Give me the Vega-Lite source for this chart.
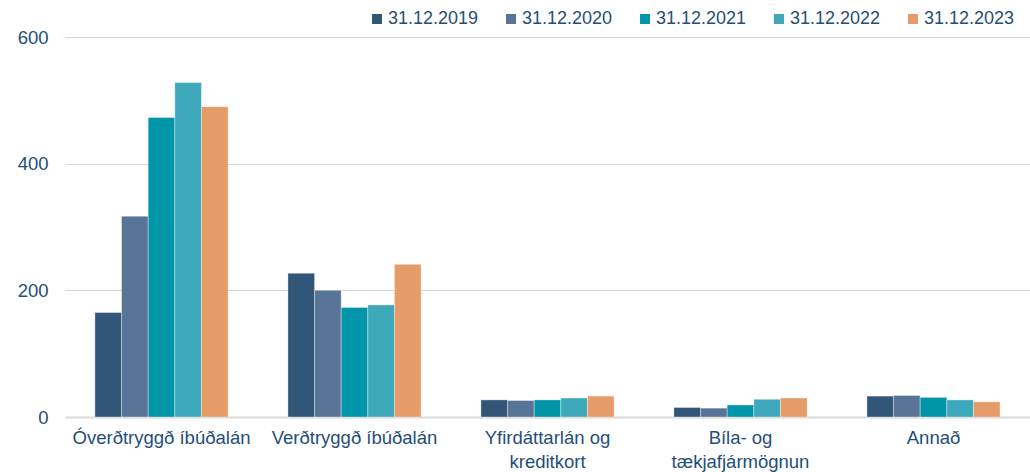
{
  "$schema": "https://vega.github.io/schema/vega-lite/v6.json",
  "width": 1030,
  "height": 472,
  "autosize": {"type": "fit", "contains": "padding"},
  "padding": {"top": 28, "left": 17, "right": 0, "bottom": 1},
  "background": "white",
  "data": {
    "values": [
      {"flokkur": "Óverðtryggð íbúðalán", "dags": "31.12.2019", "v": 165},
      {"flokkur": "Óverðtryggð íbúðalán", "dags": "31.12.2020", "v": 317},
      {"flokkur": "Óverðtryggð íbúðalán", "dags": "31.12.2021", "v": 473},
      {"flokkur": "Óverðtryggð íbúðalán", "dags": "31.12.2022", "v": 528},
      {"flokkur": "Óverðtryggð íbúðalán", "dags": "31.12.2023", "v": 490},
      {"flokkur": "Verðtryggð íbúðalán", "dags": "31.12.2019", "v": 227},
      {"flokkur": "Verðtryggð íbúðalán", "dags": "31.12.2020", "v": 200},
      {"flokkur": "Verðtryggð íbúðalán", "dags": "31.12.2021", "v": 173},
      {"flokkur": "Verðtryggð íbúðalán", "dags": "31.12.2022", "v": 177},
      {"flokkur": "Verðtryggð íbúðalán", "dags": "31.12.2023", "v": 241},
      {"flokkur": "Yfirdáttarlán og kreditkort", "dags": "31.12.2019", "v": 27},
      {"flokkur": "Yfirdáttarlán og kreditkort", "dags": "31.12.2020", "v": 26},
      {"flokkur": "Yfirdáttarlán og kreditkort", "dags": "31.12.2021", "v": 27},
      {"flokkur": "Yfirdáttarlán og kreditkort", "dags": "31.12.2022", "v": 30},
      {"flokkur": "Yfirdáttarlán og kreditkort", "dags": "31.12.2023", "v": 33},
      {"flokkur": "Bíla- og tækjafjármögnun", "dags": "31.12.2019", "v": 15},
      {"flokkur": "Bíla- og tækjafjármögnun", "dags": "31.12.2020", "v": 14},
      {"flokkur": "Bíla- og tækjafjármögnun", "dags": "31.12.2021", "v": 19},
      {"flokkur": "Bíla- og tækjafjármögnun", "dags": "31.12.2022", "v": 28},
      {"flokkur": "Bíla- og tækjafjármögnun", "dags": "31.12.2023", "v": 30},
      {"flokkur": "Annað", "dags": "31.12.2019", "v": 33},
      {"flokkur": "Annað", "dags": "31.12.2020", "v": 34},
      {"flokkur": "Annað", "dags": "31.12.2021", "v": 31},
      {"flokkur": "Annað", "dags": "31.12.2022", "v": 27},
      {"flokkur": "Annað", "dags": "31.12.2023", "v": 24}
    ]
  },
  "mark": {"type": "bar", "stroke": "white", "strokeWidth": 0.6, "strokeOpacity": 0.6},
  "encoding": {
    "x": {
      "field": "flokkur",
      "type": "nominal",
      "sort": null,
      "title": null,
      "scale": {"paddingInner": 0.31, "paddingOuter": 0.155},
      "axis": {
        "labelAngle": 0,
        "labelFont": "Liberation Sans",
        "labelFontSize": 18.5,
        "labelColor": "#1F4E79",
        "labelPadding": 11,
        "labelLineHeight": 24,
        "ticks": false,
        "domainColor": "#D9D9D9",
        "domainWidth": 2,
        "grid": false,
        "labelExpr": "datum.value == 'Yfirdáttarlán og kreditkort' ? ['Yfirdáttarlán og', 'kreditkort'] : datum.value == 'Bíla- og tækjafjármögnun' ? ['Bíla- og', 'tækjafjármögnun'] : datum.value"
      }
    },
    "xOffset": {"field": "dags", "type": "nominal", "scale": {"paddingInner": 0, "paddingOuter": 0}},
    "y": {
      "field": "v",
      "type": "quantitative",
      "title": null,
      "scale": {"domain": [0, 600]},
      "axis": {
        "values": [0, 200, 400, 600],
        "labelFont": "Liberation Sans",
        "labelFontSize": 18.5,
        "labelColor": "#1F4E79",
        "labelPadding": 17,
        "ticks": false,
        "domain": false,
        "gridColor": "#CDD7E1",
        "gridWidth": 1
      }
    },
    "color": {
      "field": "dags",
      "type": "nominal",
      "title": null,
      "scale": {
        "domain": ["31.12.2019", "31.12.2020", "31.12.2021", "31.12.2022", "31.12.2023"],
        "range": ["#325677", "#587496", "#0095A8", "#3EA8BB", "#E59C68"]
      },
      "legend": {
        "orient": "none",
        "legendX": 303,
        "legendY": -27,
        "direction": "horizontal",
        "symbolType": "square",
        "symbolSize": 100,
        "symbolStrokeWidth": 0,
        "labelFont": "Liberation Sans",
        "labelFontSize": 18,
        "labelColor": "#1F4E79",
        "labelOffset": 2,
        "columnPadding": 23,
        "padding": 0
      }
    }
  },
  "config": {
    "view": {"stroke": null}
  }
}
